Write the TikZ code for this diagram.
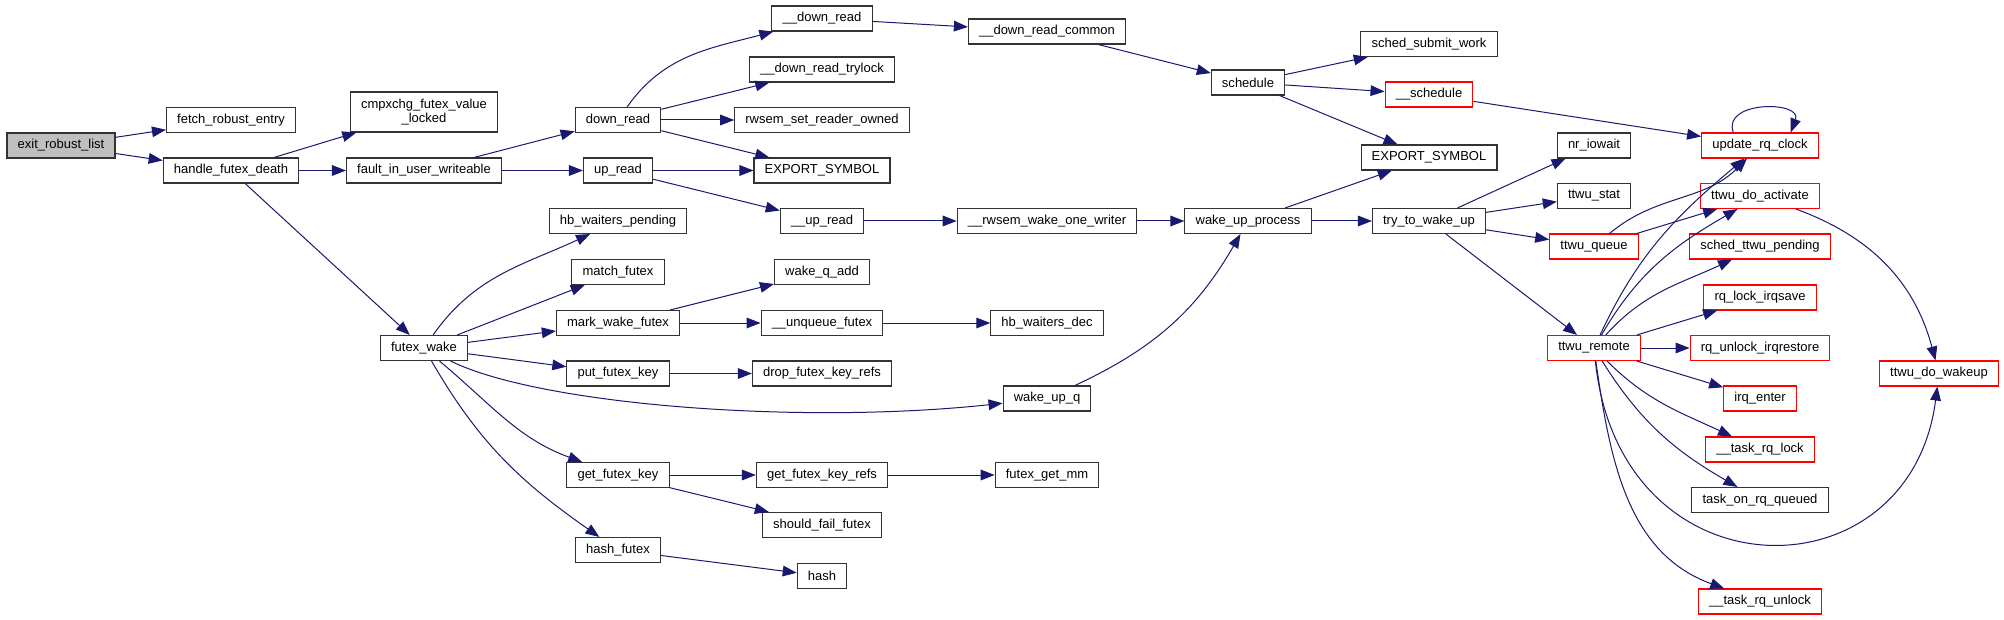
\documentclass[tikz,border=0pt]{standalone}
\usepackage{fontspec}
\setmainfont{Liberation Sans}
\usetikzlibrary{arrows.meta}
\definecolor{callblue}{RGB}{25,25,112}

\begin{document}
\begin{tikzpicture}[
    x=0.75pt, y=-0.75pt,
    fn/.style={draw=black!80, line width=0.8pt, fill=white, minimum height=18.75pt, inner xsep=8pt, inner ysep=0pt, align=center, font=\fontsize{9.75}{11}\selectfont},
    trunc/.style={fn, draw=red},
    root/.style={fn, fill=black!25},
    arr/.style={-{Triangle[length=10.5pt, width=8pt]}, line width=0.75pt, callblue}
]
\useasboundingbox (0,0) rectangle (2004,620);

\node[root] (erl) at (61,145.5) {exit\_robust\_list};
\node[fn] (fre) at (231,120) {fetch\_robust\_entry};
\node[fn] (hfd) at (231,170.5) {handle\_futex\_death};
\node[fn, minimum height=30pt] (cfv) at (424,112) {cmpxchg\_futex\_value\\\_locked};
\node[fn] (fiuw) at (424,170.5) {fault\_in\_user\_writeable};
\node[fn] (fw) at (424,348) {futex\_wake};

\node[fn] (dr) at (618,120) {down\_read};
\node[fn] (ur) at (618,170.5) {up\_read};
\node[fn] (hwp) at (618,221) {hb\_waiters\_pending};
\node[fn] (mf) at (618,272) {match\_futex};
\node[fn] (mwf) at (618,323) {mark\_wake\_futex};
\node[fn] (pfk) at (618,373.5) {put\_futex\_key};
\node[fn] (gfk) at (618,475) {get\_futex\_key};
\node[fn] (hf) at (618,550) {hash\_futex};

\node[fn] (ddr) at (822,18.5) {\_\_down\_read};
\node[fn] (ddrt) at (822,69.5) {\_\_down\_read\_trylock};
\node[fn] (rsro) at (822,120) {rwsem\_set\_reader\_owned};
\node[fn] (es1) at (822,170.5) {EXPORT\_SYMBOL};
\node[fn] (dur) at (822,221) {\_\_up\_read};
\node[fn] (wqa) at (822,272) {wake\_q\_add};
\node[fn] (uqf) at (822,323) {\_\_unqueue\_futex};
\node[fn] (dfkr) at (822,373.5) {drop\_futex\_key\_refs};
\node[fn] (gfkr) at (822,475) {get\_futex\_key\_refs};
\node[fn] (sff) at (822,525) {should\_fail\_futex};
\node[fn] (hsh) at (822,576) {hash};

\node[fn] (ddrc) at (1047,31.5) {\_\_down\_read\_common};
\node[fn] (rwow) at (1047,221) {\_\_rwsem\_wake\_one\_writer};
\node[fn] (hwd) at (1047,323) {hb\_waiters\_dec};
\node[fn] (wuq) at (1047,398.5) {wake\_up\_q};
\node[fn] (fgm) at (1047,475) {futex\_get\_mm};

\node[fn] (sch) at (1248,82.5) {schedule};
\node[fn] (wup) at (1248,221) {wake\_up\_process};

\node[fn] (ssw) at (1429,44) {sched\_submit\_work};
\node[trunc] (dsch) at (1429,94.5) {\_\_schedule};
\node[fn] (es2) at (1429,157.5) {EXPORT\_SYMBOL};
\node[fn] (ttwu) at (1429,221) {try\_to\_wake\_up};

\node[fn] (nio) at (1594,145.5) {nr\_iowait};
\node[fn] (tst) at (1594,196) {ttwu\_stat};
\node[trunc] (tq) at (1594,246.5) {ttwu\_queue};
\node[trunc] (tr) at (1594,348) {ttwu\_remote};

\node[trunc] (urc) at (1760,145.5) {update\_rq\_clock};
\node[trunc] (tda) at (1760,196) {ttwu\_do\_activate};
\node[trunc] (stp) at (1760,246.5) {sched\_ttwu\_pending};
\node[trunc] (rli) at (1760,297.5) {rq\_lock\_irqsave};
\node[trunc] (rui) at (1760,348) {rq\_unlock\_irqrestore};
\node[trunc] (ien) at (1760,398.5) {irq\_enter};
\node[trunc] (trl) at (1760,449.5) {\_\_task\_rq\_lock};
\node[fn] (torq) at (1760,500) {task\_on\_rq\_queued};
\node[trunc] (tru) at (1760,601.5) {\_\_task\_rq\_unlock};
\node[trunc] (tdw) at (1939,373.5) {ttwu\_do\_wakeup};

% calls
\draw[arr] (erl) -- (fre);
\draw[arr] (erl) -- (hfd);
\draw[arr] (hfd) -- (cfv);
\draw[arr] (hfd) -- (fiuw);
\draw[arr] (hfd) -- (fw);
\draw[arr] (fiuw) -- (dr);
\draw[arr] (fiuw) -- (ur);
\draw[arr] (dr) to[out=55, in=195] (ddr);
\draw[arr] (dr) -- (ddrt);
\draw[arr] (dr) -- (rsro);
\draw[arr] (dr) -- (es1);
\draw[arr] (ur) -- (es1);
\draw[arr] (ur) -- (dur);
\draw[arr] (ddr) -- (ddrc);
\draw[arr] (ddrc) -- (sch);
\draw[arr] (dur) -- (rwow);
\draw[arr] (rwow) -- (wup);
\draw[arr] (sch) -- (ssw);
\draw[arr] (sch) -- (dsch);
\draw[arr] (sch) -- (es2);
\draw[arr] (wup) -- (es2);
\draw[arr] (wup) -- (ttwu);
\draw[arr] (dsch) -- (urc);
\draw[arr] ([xshift=-20pt]urc.north) .. controls +(-12,-32) and +(12,-32) .. ([xshift=23pt]urc.north);
\draw[arr] (ttwu) -- (nio);
\draw[arr] (ttwu) -- (tst);
\draw[arr] (ttwu) -- (tq);
\draw[arr] (ttwu) -- (tr);
\draw[arr] (tq) to[out=40, in=225] (urc);
\draw[arr] (tq) -- (tda);
\draw[arr] (tda) to[out=-20, in=105] (tdw);
\draw[arr] (tr) to[out=65, in=220] (urc);
\draw[arr] (tr) to[out=60, in=210] (tda);
\draw[arr] (tr) to[out=48, in=205] (stp);
\draw[arr] (tr) -- (rli);
\draw[arr] (tr) -- (rui);
\draw[arr] (tr) -- (ien);
\draw[arr] (tr) to[out=-45, in=155] (trl);
\draw[arr] (tr) to[out=-58, in=150] (torq);
\draw[arr] (tr) .. controls (1620,600) and (1910,600) .. (tdw);
\draw[arr] (tr) to[out=-82, in=160] (tru);
\draw[arr] (fw) to[out=55, in=205] (hwp);
\draw[arr] (fw) -- (mf);
\draw[arr] (fw) -- (mwf);
\draw[arr] (fw) -- (pfk);
\draw[arr] (fw) .. controls (540,405) and (800,425) .. (wuq);
\draw[arr] (fw) to[out=-40, in=160] (gfk);
\draw[arr] (fw) to[out=-60, in=145] (hf);
\draw[arr] (mwf) -- (wqa);
\draw[arr] (mwf) -- (uqf);
\draw[arr] (uqf) -- (hwd);
\draw[arr] (pfk) -- (dfkr);
\draw[arr] (wuq) to[out=25, in=240] (wup);
\draw[arr] (gfk) -- (gfkr);
\draw[arr] (gfk) -- (sff);
\draw[arr] (gfkr) -- (fgm);
\draw[arr] (hf) -- (hsh);
\end{tikzpicture}
\end{document}
